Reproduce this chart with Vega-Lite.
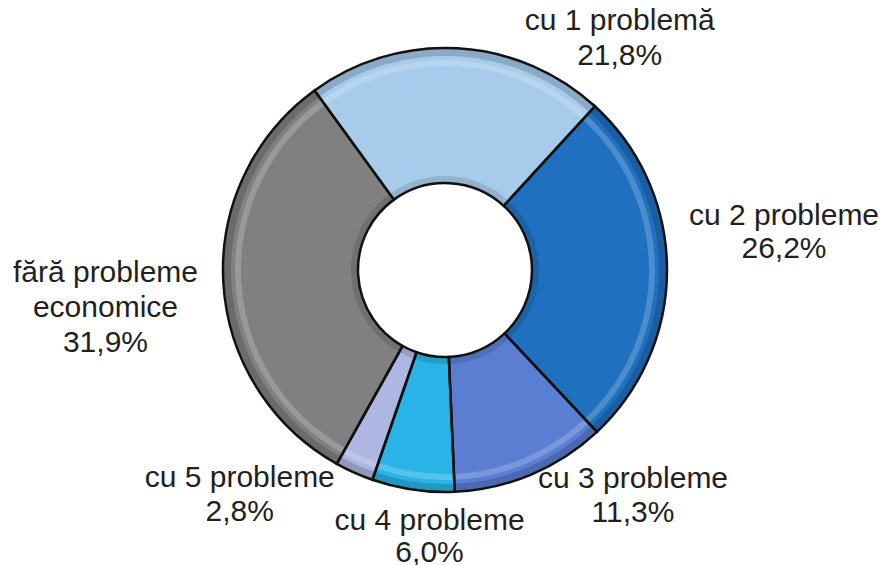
{
  "$schema": "https://vega.github.io/schema/vega-lite/v6.json",
  "width": 874,
  "height": 540,
  "autosize": "none",
  "padding": {"left": 8, "top": 0, "right": 0, "bottom": 25},
  "background": "white",
  "config": {"view": {"stroke": null}, "text": {"font": "Liberation Sans"}},
  "data": {
    "values": [
      {"cat": "cu 1 problemă", "value": 21.8, "ord": 1, "label": "cu 1 problemă\n21,8%"},
      {"cat": "cu 2 probleme", "value": 26.2, "ord": 2, "label": "cu 2 probleme\n26,2%"},
      {"cat": "cu 3 probleme", "value": 11.3, "ord": 3, "label": "cu 3 probleme\n11,3%"},
      {"cat": "cu 4 probleme", "value": 6.0, "ord": 4, "label": "cu 4 probleme\n6,0%"},
      {"cat": "cu 5 probleme", "value": 2.8, "ord": 5, "label": "cu 5 probleme\n2,8%"},
      {"cat": "fără probleme economice", "value": 31.9, "ord": 6, "label": "fără probleme\neconomice\n31,9%"}
    ]
  },
  "encoding": {
    "theta": {"field": "value", "type": "quantitative", "stack": true, "scale": {"domain": [0, 100], "range": [-0.6283, 5.6549]}},
    "order": {"field": "ord", "type": "quantitative", "sort": "ascending"}
  },
  "layer": [
    {
      "mark": {"type": "arc", "innerRadius": 87, "outerRadius": 222, "strokeWidth": 0},
      "encoding": {
        "color": {
          "field": "cat", "type": "nominal", "legend": null,
          "scale": {
            "domain": ["cu 1 problemă", "cu 2 probleme", "cu 3 probleme", "cu 4 probleme", "cu 5 probleme", "fără probleme economice"],
            "range": ["#a7cbeb", "#1f71c0", "#5b7ed2", "#2ab3e6", "#aeb6e2", "#808080"]
          }
        }
      }
    },
    {
      "mark": {"type": "arc", "innerRadius": 214, "outerRadius": 222, "fill": "#000000", "fillOpacity": 0.16, "strokeWidth": 0},
      "encoding": {"detail": {"field": "cat"}}
    },
    {
      "mark": {"type": "arc", "innerRadius": 87, "outerRadius": 94, "fill": "#000000", "fillOpacity": 0.12, "strokeWidth": 0},
      "encoding": {"detail": {"field": "cat"}}
    },
    {
      "mark": {"type": "arc", "innerRadius": 204, "outerRadius": 210, "fill": "#ffffff", "fillOpacity": 0.2, "strokeWidth": 0},
      "encoding": {"detail": {"field": "cat"}}
    },
    {
      "mark": {"type": "arc", "innerRadius": 87, "outerRadius": 222, "fill": "transparent", "stroke": "#111111", "strokeWidth": 2.5},
      "encoding": {"detail": {"field": "cat"}}
    },
    {
      "mark": {"type": "text", "radius": 260, "dx": 160, "dy": 11, "fontSize": 30, "lineBreak": "\n", "lineHeight": 35, "fill": "#231f20", "align": "center", "baseline": "middle"},
      "encoding": {"detail": {"field": "cat"}, "text": {"condition": {"test": "datum.cat === 'cu 1 problemă'", "field": "label"}, "value": ""}}
    },
    {
      "mark": {"type": "text", "radius": 260, "dx": 79, "dy": -52, "fontSize": 30, "lineBreak": "\n", "lineHeight": 33, "fill": "#231f20", "align": "center", "baseline": "middle"},
      "encoding": {"detail": {"field": "cat"}, "text": {"condition": {"test": "datum.cat === 'cu 2 probleme'", "field": "label"}, "value": ""}}
    },
    {
      "mark": {"type": "text", "radius": 260, "dx": 87, "dy": -31, "fontSize": 30, "lineBreak": "\n", "lineHeight": 34, "fill": "#231f20", "align": "center", "baseline": "middle"},
      "encoding": {"detail": {"field": "cat"}, "text": {"condition": {"test": "datum.cat === 'cu 3 probleme'", "field": "label"}, "value": ""}}
    },
    {
      "mark": {"type": "text", "radius": 260, "dx": 22, "dy": -6, "fontSize": 30, "lineBreak": "\n", "lineHeight": 32, "fill": "#231f20", "align": "center", "baseline": "middle"},
      "encoding": {"detail": {"field": "cat"}, "text": {"condition": {"test": "datum.cat === 'cu 4 probleme'", "field": "label"}, "value": ""}}
    },
    {
      "mark": {"type": "text", "radius": 260, "dx": -99, "dy": -29, "fontSize": 30, "lineBreak": "\n", "lineHeight": 34, "fill": "#231f20", "align": "center", "baseline": "middle"},
      "encoding": {"detail": {"field": "cat"}, "text": {"condition": {"test": "datum.cat === 'cu 5 probleme'", "field": "label"}, "value": ""}}
    },
    {
      "mark": {"type": "text", "radius": 260, "dx": -80, "dy": -13, "fontSize": 30, "lineBreak": "\n", "lineHeight": 35, "fill": "#231f20", "align": "center", "baseline": "middle"},
      "encoding": {"detail": {"field": "cat"}, "text": {"condition": {"test": "datum.cat === 'fără probleme economice'", "field": "label"}, "value": ""}}
    }
  ]
}
